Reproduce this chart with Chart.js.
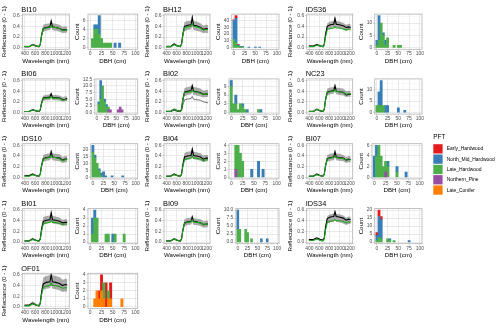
<!DOCTYPE html>
<html><head><meta charset="utf-8">
<script src="https://cdn.jsdelivr.net/npm/chart.js@4.4.1/dist/chart.umd.min.js"></script>
<style>
html,body{margin:0;padding:0;background:#fff;}
#root{position:relative;width:500px;height:334px;overflow:hidden;background:#fff;}
canvas{position:absolute;}
</style></head>
<body><div id="root"></div>
<script>
// ---------------- DATA ----------------
const SITES = ['BI10','BH12','IDS36','BI06','BI02','NC23','IDS10','BI04','BI07','BI01','BI09','IDS34','OF01'];
const WL = [390,480,550,620,675,700,725,760,820,890,915,940,1000,1080,1140,1190,1230];
const X_TICKS = [400,600,800,1000,1200];
const X_MINOR = [500,700,900,1100];
const Y_TICKS = [0,0.2,0.4,0.6];
const Y_LABELS = ['0.0','0.2','0.4','0.6'];
const Y_MINOR = [0.1,0.3,0.5];
const DBH_TICKS = [0,25,50,75,100];
const DBH_MINOR = [12.5,37.5,62.5,87.5];
const BIN_CENTERS = [0,5,10,15,20,25,30,35,40,45,50,55,60,65,70,75,80,85,90,95,100];
const PFT = ['Early_Hardwood','North_Mid_Hardwood','Late_Hardwood','Northern_Pine','Late_Conifer'];
const PFT_COLORS = ['#E41A1C','#377EB8','#4DAF4A','#984EA3','#FF7F00'];

// spectra (reflectance at WL)
const BI10_green = [.02,.02,.06,.03,.02,.06,.22,.35,.37,.38,.42,.38,.38,.36,.32,.33,.33];
const BI10_black = [.02,.02,.06,.03,.02,.06,.23,.36,.38,.39,.50,.39,.38,.36,.33,.34,.33];
const BI10_lo    = [.01,.01,.04,.02,.01,.04,.17,.30,.32,.33,.38,.33,.32,.30,.27,.28,.28];
const BI10_hi    = [.04,.03,.08,.05,.03,.09,.29,.43,.45,.46,.53,.46,.45,.43,.39,.40,.39];

const BH12_green = [.02,.02,.06,.03,.02,.06,.23,.38,.39,.40,.45,.40,.39,.37,.33,.34,.34];
const BH12_black = [.02,.02,.07,.03,.02,.07,.25,.40,.42,.43,.57,.42,.41,.38,.34,.36,.35];
const BH12_lo    = [.01,.01,.04,.02,.01,.04,.18,.31,.33,.34,.40,.33,.32,.30,.27,.28,.27];
const BH12_hi    = [.04,.04,.09,.05,.04,.10,.32,.48,.50,.51,.60,.50,.49,.46,.41,.43,.42];

const IDS36_green = [.02,.02,.05,.03,.02,.05,.20,.34,.36,.37,.40,.37,.37,.35,.33,.35,.35];
const IDS36_black = [.03,.03,.06,.03,.02,.07,.25,.40,.43,.44,.55,.44,.43,.41,.38,.39,.38];
const IDS36_lo    = [.02,.02,.04,.02,.01,.05,.19,.34,.37,.38,.42,.38,.37,.35,.32,.33,.32];
const IDS36_hi    = [.05,.04,.08,.05,.04,.09,.30,.46,.49,.50,.58,.50,.49,.47,.43,.45,.44];

const BI06_green = [.02,.02,.05,.03,.02,.05,.17,.26,.27,.27,.30,.27,.27,.26,.23,.24,.25];
const BI06_black = [.02,.02,.05,.03,.02,.05,.18,.27,.28,.29,.35,.28,.28,.27,.24,.25,.26];
const BI06_lo    = [.01,.01,.03,.02,.01,.03,.13,.22,.23,.23,.27,.23,.23,.22,.20,.21,.21];
const BI06_hi    = [.03,.03,.07,.04,.03,.07,.23,.32,.33,.34,.38,.33,.33,.32,.29,.30,.30];

const BI02_green = [.02,.02,.06,.03,.02,.06,.24,.37,.38,.39,.43,.39,.38,.36,.33,.35,.35];
const BI02_black = [.02,.02,.06,.03,.02,.06,.24,.38,.40,.41,.50,.40,.39,.37,.34,.35,.34];
const BI02_lo    = [.01,.01,.04,.02,.01,.04,.18,.31,.33,.34,.38,.33,.32,.30,.28,.29,.29];
const BI02_hi    = [.04,.04,.08,.05,.04,.09,.30,.46,.48,.49,.54,.48,.47,.45,.41,.42,.42];
const BI02_extra = [.02,.02,.04,.02,.02,.04,.14,.24,.25,.26,.30,.25,.24,.23,.20,.19,.18];

const NC23_green = [.02,.02,.06,.03,.02,.06,.23,.37,.39,.40,.43,.40,.39,.38,.34,.35,.35];
const NC23_black = [.02,.02,.06,.03,.02,.06,.24,.38,.40,.41,.50,.40,.39,.38,.33,.34,.34];
const NC23_lo    = [.01,.01,.04,.02,.01,.04,.19,.32,.34,.35,.40,.34,.33,.32,.29,.30,.29];
const NC23_hi    = [.04,.04,.08,.05,.04,.09,.30,.45,.47,.48,.54,.47,.46,.45,.40,.41,.40];

const IDS10_green = [.02,.02,.05,.03,.02,.05,.21,.34,.36,.37,.41,.37,.37,.35,.31,.33,.34];
const IDS10_black = [.03,.03,.06,.03,.02,.06,.22,.35,.37,.38,.48,.38,.37,.36,.32,.34,.34];
const IDS10_lo    = [.02,.02,.04,.02,.01,.04,.17,.29,.31,.32,.36,.32,.31,.30,.27,.28,.28];
const IDS10_hi    = [.05,.05,.08,.05,.04,.09,.28,.42,.44,.45,.52,.45,.44,.43,.38,.40,.40];

const BI04_green = [.02,.02,.05,.03,.02,.05,.20,.33,.35,.36,.40,.36,.36,.34,.31,.33,.33];
const BI04_black = [.02,.02,.06,.03,.02,.06,.23,.38,.40,.41,.53,.41,.40,.38,.34,.36,.36];
const BI04_lo    = [.01,.01,.04,.02,.01,.04,.18,.31,.33,.34,.40,.34,.33,.31,.28,.30,.30];
const BI04_hi    = [.04,.04,.08,.05,.04,.09,.30,.46,.48,.49,.56,.48,.47,.45,.41,.42,.42];

const BI07_green = [.02,.02,.05,.03,.02,.05,.21,.34,.36,.37,.40,.37,.36,.35,.32,.33,.33];
const BI07_black = [.02,.02,.06,.03,.02,.06,.22,.35,.37,.38,.48,.38,.37,.36,.32,.34,.33];
const BI07_lo    = [.01,.01,.04,.02,.01,.04,.17,.29,.31,.32,.37,.32,.31,.30,.27,.28,.28];
const BI07_hi    = [.04,.04,.08,.05,.04,.08,.27,.42,.44,.45,.51,.45,.44,.42,.38,.40,.39];

const BI01_green = [.02,.02,.05,.03,.02,.05,.20,.34,.36,.37,.41,.37,.37,.35,.33,.34,.34];
const BI01_black = [.02,.02,.06,.03,.02,.06,.24,.39,.41,.42,.55,.42,.41,.39,.36,.37,.37];
const BI01_lo    = [.01,.01,.04,.02,.01,.04,.19,.33,.35,.36,.42,.35,.34,.33,.30,.31,.31];
const BI01_hi    = [.04,.04,.08,.05,.04,.09,.31,.47,.49,.50,.58,.49,.48,.46,.42,.43,.43];

const BI09_green = [.02,.02,.06,.03,.02,.06,.22,.35,.37,.38,.42,.38,.37,.36,.32,.34,.34];
const BI09_black = [.02,.02,.06,.03,.02,.06,.22,.36,.38,.39,.47,.39,.38,.36,.33,.34,.34];
const BI09_lo    = [.01,.01,.04,.02,.01,.04,.17,.30,.32,.33,.37,.32,.32,.30,.27,.28,.28];
const BI09_hi    = [.04,.04,.08,.05,.04,.09,.28,.43,.45,.46,.51,.45,.44,.43,.39,.40,.40];

const IDS34_green = [.03,.03,.06,.03,.02,.06,.22,.37,.39,.40,.42,.40,.40,.39,.36,.38,.38];
const IDS34_black = [.05,.05,.08,.05,.04,.08,.28,.44,.47,.48,.57,.48,.47,.45,.41,.43,.42];
const IDS34_lo    = [.03,.03,.05,.03,.02,.05,.20,.35,.37,.38,.44,.38,.37,.35,.32,.34,.34];
const IDS34_hi    = [.06,.06,.09,.06,.05,.10,.32,.49,.52,.53,.60,.53,.52,.50,.46,.48,.47];

const OF01_green = [.02,.02,.06,.03,.02,.06,.23,.37,.39,.40,.45,.40,.40,.38,.35,.36,.36];
const OF01_black = [.03,.03,.07,.03,.02,.07,.27,.43,.46,.47,.60,.47,.46,.44,.40,.42,.41];
const OF01_lo    = [.01,.01,.04,.02,.01,.04,.18,.32,.34,.35,.40,.34,.33,.31,.28,.29,.29];
const OF01_hi    = [.05,.05,.10,.06,.05,.11,.36,.55,.58,.60,.62,.60,.58,.56,.51,.53,.52];

// DBH histograms: [bin centre (cm), count] per PFT
const BI10_NMH = [[10,1],[15,1],[20,4],[55,1],[65,1]];
const BI10_LH  = [[5,2],[10,4],[15,4],[20,3],[25,2],[30,1],[35,1],[40,1],[45,1]];
const BI10_counts = ['0','2','4','6'];

const BH12_EH  = [[0,1],[5,4],[10,1]];
const BH12_NMH = [[0,28],[5,36],[10,2],[15,1],[20,1],[35,1],[50,1],[60,1]];
const BH12_LH  = [[0,12],[5,7],[10,2],[15,1],[20,1]];
const BH12_counts = ['0','10','20','30','40'];

const IDS36_NMH = [[0,2],[5,10],[15,1],[20,2]];
const IDS36_LH  = [[0,1],[5,3],[10,10],[15,5],[20,1],[25,4],[40,1],[50,1],[55,1]];
const IDS36_counts = ['0','5','10'];

const BI06_NMH = [[5,1],[10,7],[20,1],[25,1]];
const BI06_LH  = [[5,3],[10,5],[15,10],[20,4],[25,2],[30,1]];
const BI06_NP  = [[30,1],[35,1],[55,1],[60,2],[65,1]];
const BI06_counts = ['0.0','2.5','5.0','7.5','10.0','12.5'];

const BI02_NMH = [[0,2],[10,3],[25,1],[35,1],[65,1]];
const BI02_LH  = [[0,9],[5,3],[10,3],[15,1],[20,3],[25,2],[30,1],[60,1]];
const BI02_counts = ['0','3','6','9'];

const NC23_NMH = [[5,6],[10,11],[20,3],[25,3],[50,2],[65,1]];
const NC23_LH  = [[0,3],[5,3],[10,3],[15,3]];
const NC23_counts = ['0','5','10'];

const IDS10_NMH = [[0,5],[5,2],[15,1],[20,2],[25,4],[30,1],[45,1],[70,1]];
const IDS10_LH  = [[0,18],[5,14],[10,10],[15,5],[20,1]];
const IDS10_counts = ['0','5','10','15','20'];

const BI04_NMH = [[45,1],[60,2],[70,1]];
const BI04_LH  = [[10,3],[15,4],[20,3],[25,2]];
const BI04_NP  = [[10,1]];
const BI04_counts = ['0','1','2','3','4'];

const BI07_NMH = [[0,4],[5,2],[30,1],[50,1],[70,1]];
const BI07_LH  = [[5,4],[10,6],[15,4],[20,2],[25,2],[30,2],[50,1]];
const BI07_NP  = [[25,1]];
const BI07_counts = ['0','2','4','6'];

const BI01_NMH = [[5,2],[10,1],[50,1]];
const BI01_LH  = [[5,1],[10,3],[15,3],[35,1],[40,1],[55,1],[75,1]];
const BI01_counts = ['0','1','2','3','4'];

const BI09_NMH = [[0,6],[60,1],[75,1]];
const BI09_LH  = [[0,4],[5,4],[20,4],[25,3],[35,1]];
const BI09_counts = ['0.0','2.5','5.0','7.5','10.0'];

const IDS34_EH  = [[0,2],[5,4],[10,2]];
const IDS34_NMH = [[0,3],[5,13],[10,12],[30,1],[75,1]];
const IDS34_LH  = [[0,1],[5,3],[10,2],[25,2],[30,1],[40,1]];
const IDS34_counts = ['0','5','10','15','20'];

const OF01_EH = [[20,1],[25,2],[35,3],[45,2]];
const OF01_LH = [[30,2],[40,1]];
const OF01_LC = [[10,1],[15,2],[20,1],[25,2],[30,1],[40,1],[45,1],[70,1]];
const OF01_counts = ['0','1','2','3','4'];

// table built from the arrays above (hist order: EH, NMH, LH, NP, LC)
const panels = [
  {site:'BI10', green:BI10_green, black:BI10_black, lo:BI10_lo, hi:BI10_hi, hist:[[],BI10_NMH,BI10_LH,[],[]], counts:BI10_counts},
  {site:'BH12', green:BH12_green, black:BH12_black, lo:BH12_lo, hi:BH12_hi, hist:[BH12_EH,BH12_NMH,BH12_LH,[],[]], counts:BH12_counts},
  {site:'IDS36', green:IDS36_green, black:IDS36_black, lo:IDS36_lo, hi:IDS36_hi, hist:[[],IDS36_NMH,IDS36_LH,[],[]], counts:IDS36_counts},
  {site:'BI06', green:BI06_green, black:BI06_black, lo:BI06_lo, hi:BI06_hi, hist:[[],BI06_NMH,BI06_LH,BI06_NP,[]], counts:BI06_counts},
  {site:'BI02', green:BI02_green, black:BI02_black, lo:BI02_lo, hi:BI02_hi, extra:BI02_extra, hist:[[],BI02_NMH,BI02_LH,[],[]], counts:BI02_counts},
  {site:'NC23', green:NC23_green, black:NC23_black, lo:NC23_lo, hi:NC23_hi, hist:[[],NC23_NMH,NC23_LH,[],[]], counts:NC23_counts},
  {site:'IDS10', green:IDS10_green, black:IDS10_black, lo:IDS10_lo, hi:IDS10_hi, hist:[[],IDS10_NMH,IDS10_LH,[],[]], counts:IDS10_counts},
  {site:'BI04', green:BI04_green, black:BI04_black, lo:BI04_lo, hi:BI04_hi, hist:[[],BI04_NMH,BI04_LH,BI04_NP,[]], counts:BI04_counts},
  {site:'BI07', green:BI07_green, black:BI07_black, lo:BI07_lo, hi:BI07_hi, hist:[[],BI07_NMH,BI07_LH,BI07_NP,[]], counts:BI07_counts},
  {site:'BI01', green:BI01_green, black:BI01_black, lo:BI01_lo, hi:BI01_hi, hist:[[],BI01_NMH,BI01_LH,[],[]], counts:BI01_counts},
  {site:'BI09', green:BI09_green, black:BI09_black, lo:BI09_lo, hi:BI09_hi, hist:[[],BI09_NMH,BI09_LH,[],[]], counts:BI09_counts},
  {site:'IDS34', green:IDS34_green, black:IDS34_black, lo:IDS34_lo, hi:IDS34_hi, hist:[IDS34_EH,IDS34_NMH,IDS34_LH,[],[]], counts:IDS34_counts},
  {site:'OF01', green:OF01_green, black:OF01_black, lo:OF01_lo, hi:OF01_hi, hist:[OF01_EH,[],OF01_LH,[],OF01_LC], counts:OF01_counts}
];

// ---------------- LAYOUT / STYLE ----------------
const ROW_PITCH = 64.8, CELL_H = 65, BOX_TOP = 14.1, BOX_BOTTOM = 49.3;
const SPEC_X0 = [0.3, 143.3, 286.3];
const SPEC_BL = [22.3, 164, 306.7];
const SPEC_BR = [69.3, 210, 352.7];
const HIST_X0 = [73, 214, 357];
const HIST_BR = [137.7, 279, 422];
const FONT = "'Liberation Sans', Arial, Helvetica, sans-serif";
const TICK_FONT = {size:4.95};
const TICK_COL = '#4D4D4D';

Chart.defaults.font.family = FONT;
Chart.defaults.color = TICK_COL;

const root = document.getElementById('root');
const near = (a, list) => list.some(v => Math.abs(v - a) < 1e-6);

function mkCanvas(l, t, w, h) {
  const cv = document.createElement('canvas');
  cv.width = w; cv.height = h;
  cv.style.left = l + 'px'; cv.style.top = t + 'px';
  cv.style.width = w + 'px'; cv.style.height = h + 'px';
  root.appendChild(cv);
  return cv;
}
function gridOpts(majors) {
  const isMaj = c => c.tick && near(c.tick.value, majors);
  return {
    color: c => isMaj(c) ? '#DCDCDC' : '#EDEDED',
    lineWidth: c => isMaj(c) ? 0.6 : 0.35,
    tickColor: c => isMaj(c) ? '#B3B3B3' : 'rgba(0,0,0,0)',
    tickLength: 1.5, drawTicks: true
  };
}
const axTitle = text => ({display:true, text, color:'#000', font:{size:6.2}, padding:{top:1, bottom:0.3}});

const panelBox = {
  id: 'panelBox',
  afterDatasetsDraw(chart) {
    const a = chart.chartArea, ctx = chart.ctx;
    ctx.save();
    ctx.strokeStyle = '#B3B3B3'; ctx.lineWidth = 0.8;
    ctx.strokeRect(a.left, a.top, a.right - a.left, a.bottom - a.top);
    ctx.restore();
  },
  afterDraw(chart, args, opts) {
    if (!opts || !opts.text) return;
    const ctx = chart.ctx;
    ctx.save();
    ctx.font = '7.4px ' + FONT; ctx.fillStyle = '#000';
    ctx.textBaseline = 'alphabetic'; ctx.textAlign = 'left';
    ctx.fillText(opts.text, chart.chartArea.left - 1, opts.y);
    ctx.restore();
  }
};

function specChart(p, r, c) {
  const y0 = ROW_PITCH * r;
  const top = Math.floor(y0);
  const left = Math.floor(SPEC_X0[c]);
  const right = Math.ceil(SPEC_BR[c] + 6);
  const cv = mkCanvas(left, top, right - left, CELL_H);
  const yAxisW = SPEC_BL[c] - left;
  const padTop = y0 + BOX_TOP - top;
  const xAxisH = top + CELL_H - (y0 + BOX_BOTTOM);
  const pts = arr => WL.map((w, i) => ({x: w, y: arr[i]}));
  const line = (arr, col, w) => ({data: pts(arr), borderColor: col, borderWidth: w, pointRadius: 0, fill: false, tension: 0});
  const datasets = [line(p.green, '#1DA11D', 1.1), line(p.black, '#000000', 1.1)];
  if (p.extra) datasets.push(line(p.extra, '#3a3a3a', 0.7));
  datasets.push({data: pts(p.lo), borderWidth: 0, borderColor: 'rgba(0,0,0,0)', pointRadius: 0, fill: false});
  datasets.push({data: pts(p.hi), borderWidth: 0, borderColor: 'rgba(0,0,0,0)', pointRadius: 0, fill: '-1', backgroundColor: 'rgba(110,110,110,0.58)'});
  const xAll = [...X_TICKS, ...X_MINOR].sort((a, b) => a - b);
  const yAll = [...Y_TICKS, ...Y_MINOR].sort((a, b) => a - b);
  new Chart(cv, {
    type: 'line',
    data: {datasets},
    options: {
      responsive: false, animation: false, devicePixelRatio: 1,
      layout: {padding: {top: padTop, right: right - SPEC_BR[c], bottom: 0, left: 0}},
      plugins: {legend: {display: false}, tooltip: {enabled: false}, panelBox: {text: p.site, y: y0 + 11.6 - top}},
      scales: {
        x: {type: 'linear', min: 347, max: 1271, bounds: 'data',
          afterBuildTicks: s => { s.ticks = xAll.map(v => ({value: v})); },
          afterFit: s => { s.height = xAxisH; },
          ticks: {autoSkip: false, maxRotation: 0, minRotation: 0, padding: 0, font: TICK_FONT, color: TICK_COL,
            callback: v => near(v, X_TICKS) ? String(v) : ''},
          grid: gridOpts(X_TICKS), border: {display: false}, title: axTitle('Wavelength (nm)')},
        y: {type: 'linear', min: -0.03, max: 0.63, bounds: 'data',
          afterBuildTicks: s => { s.ticks = yAll.map(v => ({value: v})); },
          afterFit: s => { s.width = yAxisW; },
          ticks: {autoSkip: false, padding: 1, font: TICK_FONT, color: TICK_COL,
            callback: v => { const i = Y_TICKS.findIndex(t => Math.abs(t - v) < 1e-6); return i >= 0 ? Y_LABELS[i] : ''; }},
          grid: gridOpts(Y_TICKS), border: {display: false}, title: axTitle('Reflectance (0 - 1)')}
      }
    },
    plugins: [panelBox]
  });
}

function histChart(p, r, c) {
  const y0 = ROW_PITCH * r;
  const top = Math.floor(y0);
  const left = Math.floor(HIST_X0[c]);
  const right = Math.ceil(HIST_BR[c] + 5);
  const cv = mkCanvas(left, top, right - left, CELL_H);
  const padTop = y0 + BOX_TOP - top;
  const xAxisH = top + CELL_H - (y0 + BOX_BOTTOM);
  const look = (pairs, b) => { const f = pairs.find(q => q[0] === b); return f ? f[1] : null; };
  const stackOrder = [4, 3, 2, 1, 0]; // bottom -> top
  const datasets = stackOrder.map(k => ({
    label: PFT[k],
    data: BIN_CENTERS.map(b => ({x: b, y: look(p.hist[k], b)})),
    backgroundColor: PFT_COLORS[k], borderWidth: 0,
    barPercentage: 1, categoryPercentage: 1
  }));
  const totals = BIN_CENTERS.map(b => p.hist.reduce((s, h) => s + (look(h, b) || 0), 0));
  const maxC = Math.max(...totals);
  const yMaj = p.counts.map(Number);
  const yMin = [];
  for (let i = 0; i < yMaj.length - 1; i++) yMin.push((yMaj[i] + yMaj[i + 1]) / 2);
  const step = yMaj[1] - yMaj[0];
  if (yMaj[yMaj.length - 1] + step / 2 < maxC * 1.05) yMin.push(yMaj[yMaj.length - 1] + step / 2);
  const yAll = [...yMaj, ...yMin].sort((a, b) => a - b);
  const xAll = [...DBH_TICKS, ...DBH_MINOR].sort((a, b) => a - b);
  new Chart(cv, {
    type: 'bar',
    data: {datasets},
    options: {
      responsive: false, animation: false, devicePixelRatio: 1,
      layout: {padding: {top: padTop, right: right - HIST_BR[c], bottom: 0, left: 0}},
      plugins: {legend: {display: false}, tooltip: {enabled: false}, panelBox: {}},
      scales: {
        x: {type: 'linear', min: -5, max: 105, stacked: true, bounds: 'data', offset: false,
          afterBuildTicks: s => { s.ticks = xAll.map(v => ({value: v})); },
          afterFit: s => { s.height = xAxisH; },
          ticks: {autoSkip: false, maxRotation: 0, minRotation: 0, padding: 0, font: TICK_FONT, color: TICK_COL,
            callback: v => near(v, DBH_TICKS) ? String(v) : ''},
          grid: {...gridOpts(DBH_TICKS), offset: false}, border: {display: false}, title: axTitle('DBH (cm)')},
        y: {type: 'linear', stacked: true, min: -0.05 * maxC, max: 1.05 * maxC, bounds: 'data',
          afterBuildTicks: s => { s.ticks = yAll.map(v => ({value: v})); },
          ticks: {autoSkip: false, padding: 1, font: TICK_FONT, color: TICK_COL,
            callback: v => { const i = yMaj.findIndex(t => Math.abs(t - v) < 1e-6); return i >= 0 ? p.counts[i] : ''; }},
          grid: gridOpts(yMaj), border: {display: false}, title: axTitle('Count')}
      }
    },
    plugins: [panelBox]
  });
}

panels.forEach((p, i) => {
  const r = Math.floor(i / 3), c = i % 3;
  specChart(p, r, c);
  histChart(p, r, c);
});

// legend (drawn by a Chart.js plugin on its own canvas)
const LEG_L = 428, LEG_T = 128;
const legendPlugin = {
  id: 'pftLegend',
  afterDraw(chart) {
    const ctx = chart.ctx;
    ctx.save();
    ctx.fillStyle = '#000'; ctx.textAlign = 'left';
    ctx.font = '6.4px ' + FONT; ctx.textBaseline = 'alphabetic';
    ctx.fillText('PFT', 433.3 - LEG_L, 139.4 - LEG_T);
    ctx.font = '4.95px ' + FONT; ctx.textBaseline = 'middle';
    PFT.forEach((name, i) => {
      const y = 144.2 + i * 10.3 - LEG_T;
      ctx.fillStyle = PFT_COLORS[i];
      ctx.fillRect(433.3 - LEG_L, y, 9.3, 9.3);
      ctx.fillStyle = '#000';
      ctx.fillText(name, 446.7 - LEG_L, y + 4.8);
    });
    ctx.restore();
  }
};
new Chart(mkCanvas(LEG_L, LEG_T, 72, 72), {
  type: 'bar', data: {labels: [], datasets: []},
  options: {responsive: false, animation: false, devicePixelRatio: 1,
    scales: {x: {display: false}, y: {display: false}},
    plugins: {legend: {display: false}, tooltip: {enabled: false}}},
  plugins: [legendPlugin]
});
</script>
</body></html>
